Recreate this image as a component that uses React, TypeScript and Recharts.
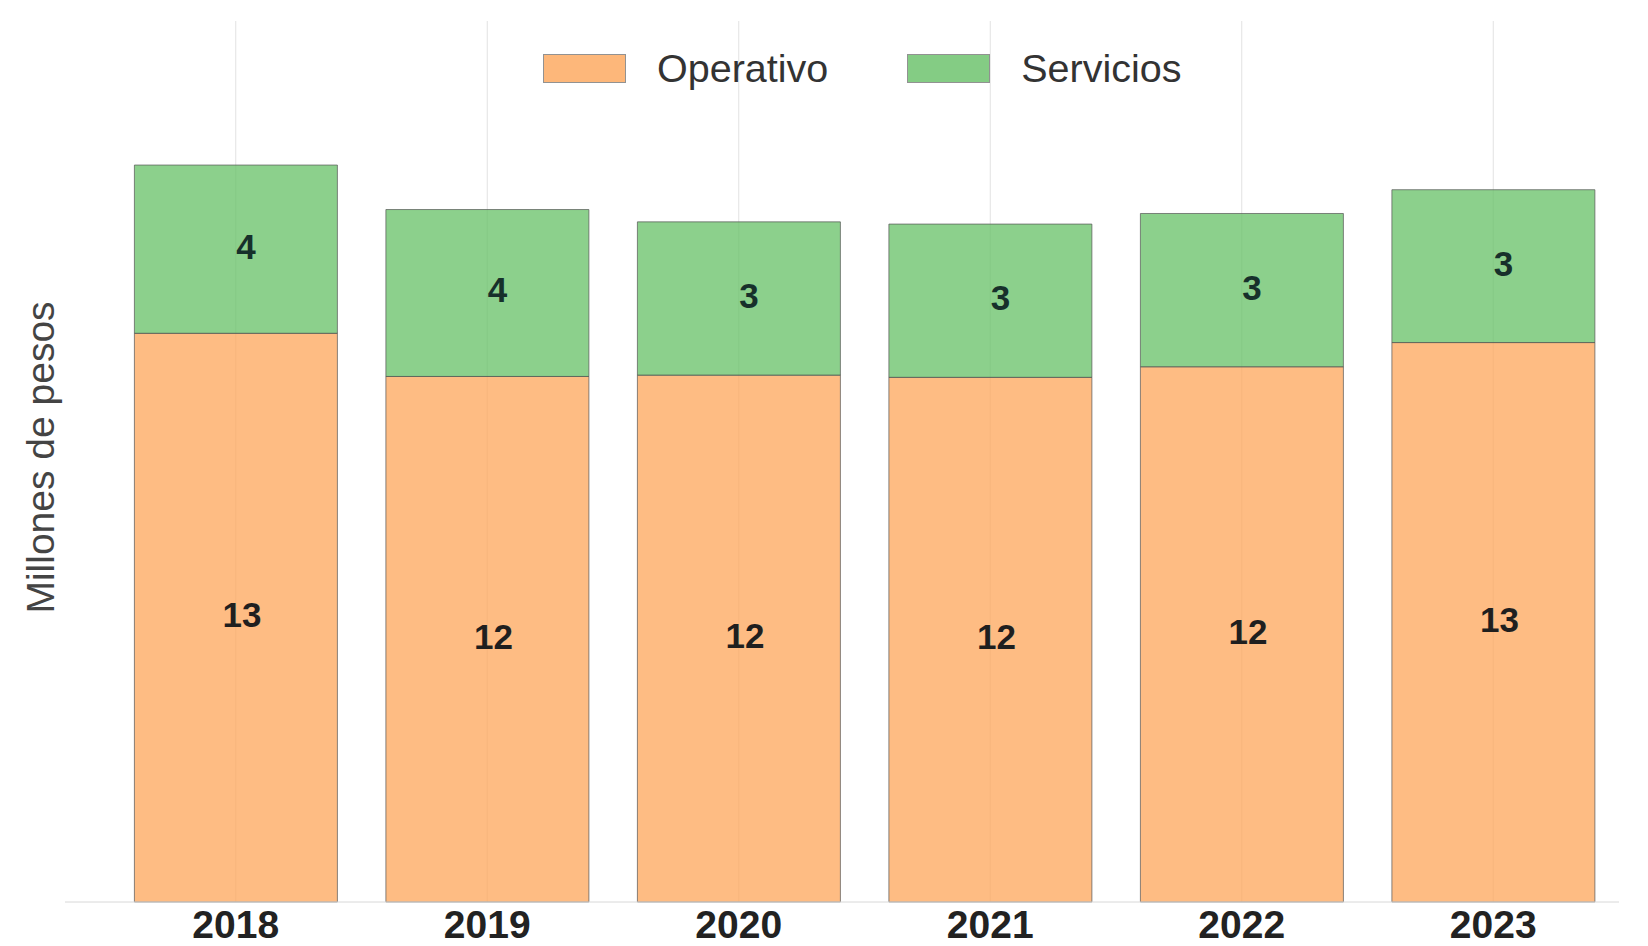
import { BarChart, Bar, XAxis, YAxis, CartesianGrid, Legend, LabelList } from 'recharts'

const years = ['2018', '2019', '2020', '2021', '2022', '2023']
const operativo = [12.91, 11.93, 11.96, 11.91, 12.15, 12.7]
const servicios = [3.82, 3.79, 3.48, 3.48, 3.48, 3.47]

const data = years.map((year, i) => ({
  year,
  Operativo: operativo[i],
  Servicios: servicios[i],
}))

const FONT = "'Liberation Sans', Arial, sans-serif"

function LegendContent({ payload }: any) {
  if (!payload?.length) return null
  return (
    <div style={{ display: 'flex', alignItems: 'center', paddingLeft: 543, fontFamily: FONT }}>
      {payload.map((entry: any) => (
        <div key={entry.value} style={{ display: 'flex', alignItems: 'center', marginRight: 79 }}>
          <span
            style={{
              display: 'inline-block',
              width: 81,
              height: 27,
              background: entry.color,
              opacity: 0.8,
              border: '1px solid #777',
              marginRight: 31,
            }}
          />
          <span style={{ fontSize: 39.5, color: '#333', lineHeight: '29px' }}>{entry.value}</span>
        </div>
      ))}
    </div>
  )
}

function YLabel({ viewBox }: any) {
  const x = viewBox.x + 40
  const y = viewBox.y + viewBox.height / 2 - 4
  return (
    <text
      x={x}
      y={y}
      transform={`rotate(-90 ${x} ${y})`}
      textAnchor="middle"
      dominantBaseline="central"
      fontFamily={FONT}
      fontSize={39}
      fill="#444"
    >
      Millones de pesos
    </text>
  )
}

const roundLabel = (v: any) => Math.round(Number(v))

export default function App() {
  return (
    <div style={{ position: 'absolute', left: 0, top: 0, background: '#fff' }}>
      <BarChart
        width={1648}
        height={946}
        data={data}
        margin={{ top: 21, right: 29, bottom: 4, left: 0 }}
        barCategoryGap="9.7%"
      >
        <CartesianGrid vertical horizontal={false} syncWithTicks stroke="#e2e2e2" strokeWidth={1} />
        <XAxis
          dataKey="year"
          height={40}
          padding={{ left: 45, right: 0 }}
          axisLine={{ stroke: '#d8d8d8' }}
          tickLine={false}
          tick={{ fontSize: 39, fontWeight: 700, fill: '#222', fontFamily: FONT }}
          interval={0}
        />
        <YAxis
          width={65}
          domain={[0, 20]}
          ticks={[0, 5, 10, 15, 20]}
          tick={false}
          axisLine={false}
          tickLine={false}
          label={<YLabel />}
        />
        <Legend
          layout="horizontal"
          verticalAlign="middle"
          align="center"
          wrapperStyle={{ top: 54, left: 0, width: 1648 }}
          content={<LegendContent />}
        />
        <Bar
          dataKey="Operativo"
          stackId="a"
          fill="#FDA65A"
          fillOpacity={0.75}
          stroke="#555"
          strokeOpacity={0.7}
          strokeWidth={1}
          isAnimationActive={false}
        >
          <LabelList
            dataKey="Operativo"
            position="center"
            formatter={roundLabel}
            dx={6}
            dy={-3}
            fill="#1f1f1f"
            fontSize={35}
            fontWeight={700}
            fontFamily={FONT}
          />
        </Bar>
        <Bar
          dataKey="Servicios"
          stackId="a"
          fill="#66C066"
          fillOpacity={0.75}
          stroke="#555"
          strokeOpacity={0.7}
          strokeWidth={1}
          isAnimationActive={false}
        >
          <LabelList
            dataKey="Servicios"
            position="center"
            formatter={roundLabel}
            dx={10}
            dy={-3}
            fill="#17302b"
            fontSize={35}
            fontWeight={700}
            fontFamily={FONT}
          />
        </Bar>
      </BarChart>
    </div>
  )
}
